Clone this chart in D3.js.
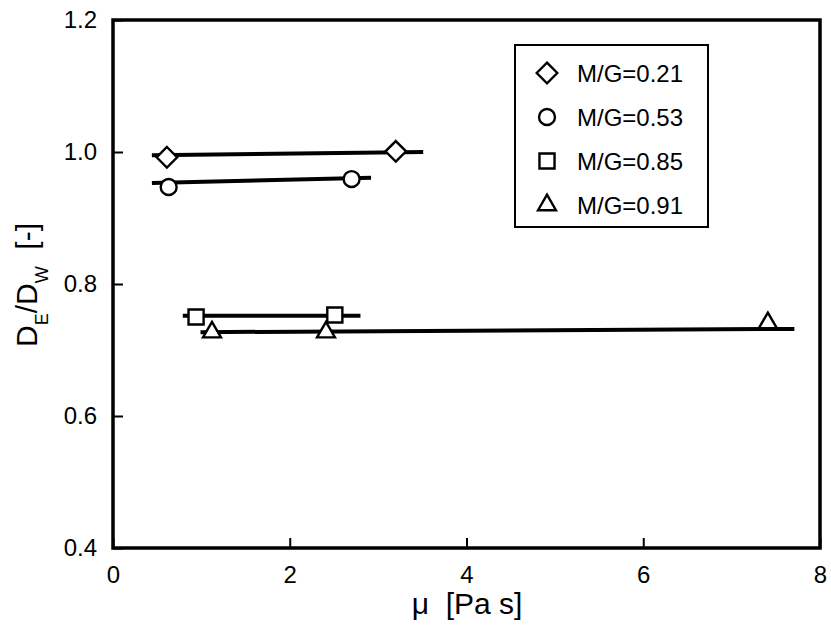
<!DOCTYPE html>
<html>
<head>
<meta charset="utf-8">
<script src="https://cdn.jsdelivr.net/npm/d3@7"></script>
<style>
  body { margin: 0; background: #fff; }
  text { font-family: "Liberation Sans", Arial, sans-serif; fill: #000; }
</style>
</head>
<body>
<script>
// series
const seriesNames = ["M/G=0.21", "M/G=0.53", "M/G=0.85", "M/G=0.91"];
const seriesSymbols = ["diamond", "circle", "square", "triangle"];
const muValues = [
  [0.61, 3.20],
  [0.63, 2.70],
  [0.94, 2.51],
  [1.12, 2.41, 7.41]
];
const ratioValues = [
  [0.992, 1.001],
  [0.947, 0.959],
  [0.750, 0.753],
  [0.727, 0.727, 0.741]
];
// fitted lines: start/end mu and ratio
const fitMu = [[0.44, 3.51], [0.44, 2.92], [0.79, 2.80], [0.99, 7.71]];
const fitRatio = [[0.995, 1.000], [0.953, 0.961], [0.752, 0.752], [0.727, 0.732]];

const xTicks = [0, 2, 4, 6, 8];
const yTicks = [0.4, 0.6, 0.8, 1.0, 1.2];

const W = 831, H = 629;
const margin = {left: 113, top: 20, right: 11, bottom: 81};
const iw = W - margin.left - margin.right;
const ih = H - margin.top - margin.bottom;

const svg = d3.select("body").append("svg")
  .attr("width", W)
  .attr("height", H);

const g = svg.append("g")
  .attr("transform", `translate(${margin.left},${margin.top})`);

const x = d3.scaleLinear().domain([0, 8]).range([0, iw]);
const y = d3.scaleLinear().domain([0.4, 1.2]).range([ih, 0]);

// axes with inward ticks
const xAxis = g.append("g")
  .attr("transform", `translate(0,${ih})`)
  .call(d3.axisBottom(x).tickValues(xTicks).tickSize(-10).tickPadding(18).tickFormat(d3.format("d")));
const yAxis = g.append("g")
  .call(d3.axisLeft(y).tickValues(yTicks).tickSize(-10).tickPadding(16).tickFormat(d3.format(".1f")));

[xAxis, yAxis].forEach(a => {
  a.attr("font-size", null).attr("font-family", null);
  a.select(".domain").remove();
  a.selectAll("line").attr("stroke", "#000").attr("stroke-width", 2);
  a.selectAll("text").attr("fill", "#000").attr("font-size", 24);
});
xAxis.selectAll("text").attr("dy", "0.72em");

// frame
g.append("rect")
  .attr("width", iw).attr("height", ih)
  .attr("fill", "none").attr("stroke", "#000").attr("stroke-width", 3.5);

// fit lines
g.append("g").selectAll("line")
  .data(d3.range(seriesNames.length))
  .join("line")
  .attr("x1", i => x(fitMu[i][0])).attr("x2", i => x(fitMu[i][1]))
  .attr("y1", i => y(fitRatio[i][0])).attr("y2", i => y(fitRatio[i][1]))
  .attr("stroke", "#000").attr("stroke-width", 4);

const symbolMap = {
  diamond: d3.symbolDiamond2,
  circle: d3.symbolCircle,
  square: d3.symbolSquare2,
  triangle: d3.symbolTriangle2
};
const symbolSize = {diamond: 270, circle: 200, square: 290, triangle: 230};

function marker(sel, name) {
  sel.append("path")
    .attr("d", d3.symbol(symbolMap[name], symbolSize[name])())
    .attr("fill", "#fff").attr("stroke", "#000").attr("stroke-width", 2.4);
}

seriesNames.forEach((s, i) => {
  muValues[i].forEach((m, j) => {
    const p = g.append("g")
      .attr("transform", `translate(${x(m)},${y(ratioValues[i][j])})`);
    marker(p, seriesSymbols[i]);
  });
});

// legend
const legend = svg.append("g").attr("transform", "translate(515,45)");
legend.append("rect")
  .attr("width", 193).attr("height", 182)
  .attr("fill", "#fff").attr("stroke", "#000").attr("stroke-width", 2);
seriesNames.forEach((s, i) => {
  const row = legend.append("g").attr("transform", `translate(32,${28 + i * 44})`);
  marker(row, seriesSymbols[i]);
  row.append("text")
    .attr("x", 30).attr("dy", "0.36em")
    .attr("font-size", 24)
    .text(s);
});

// axis titles
svg.append("text")
  .attr("x", 467).attr("y", 614)
  .attr("text-anchor", "middle")
  .attr("font-size", 30)
  .attr("xml:space", "preserve")
  .text("μ  [Pa s]");

const yt = svg.append("text")
  .attr("transform", "translate(37,285) rotate(-90)")
  .attr("text-anchor", "middle")
  .attr("xml:space", "preserve")
  .attr("font-size", 30);
yt.append("tspan").text("D");
yt.append("tspan").attr("dy", 11).attr("font-size", 18).text("E");
yt.append("tspan").attr("dy", -11).text("/D");
yt.append("tspan").attr("dy", 11).attr("font-size", 18).text("W");
yt.append("tspan").attr("dy", -11).text("  [-]");
</script>
</body>
</html>
